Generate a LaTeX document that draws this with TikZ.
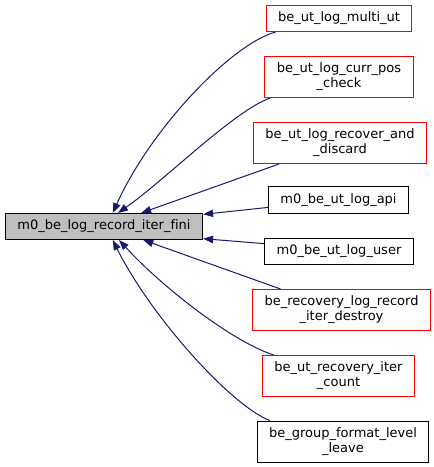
\documentclass[tikz,border=0pt]{standalone}
\usepackage{fontspec}
\setmainfont[Ligatures=NoCommon]{DejaVu Sans}
\usetikzlibrary{arrows.meta}
\definecolor{edgeblue}{HTML}{191970}
\definecolor{mainfill}{HTML}{BFBFBF}
\tikzset{
  fn/.style={draw, align=center, font=\fontsize{9.75}{11.25}\selectfont, inner xsep=9pt, inner ysep=4.9pt, line width=0.75pt},
  callerred/.style={fn, draw=red},
  callerblack/.style={fn, draw=black},
  call/.style={edgeblue, line width=0.75pt, {Triangle[length=7.5pt,width=5.5pt]}-},
}
\begin{document}
\begin{tikzpicture}[x=0.75pt, y=-0.75pt]
\useasboundingbox (0,0) rectangle (433,467);
\node[fn, fill=mainfill] (fini) at (104,226.5) {m0\_be\_log\_record\_iter\_fini};
\node[callerred] (multi) at (339,18.5) {be\_ut\_log\_multi\_ut};
\node[callerred] (currpos) at (339,77) {be\_ut\_log\_curr\_pos\\ \_check};
\node[callerred] (recover) at (340,143) {be\_ut\_log\_recover\_and\\ \_discard};
\node[callerblack] (api) at (338.5,200) {m0\_be\_ut\_log\_api};
\node[callerblack] (user) at (339,251.5) {m0\_be\_ut\_log\_user};
\node[callerred] (destroy) at (341.5,310) {be\_recovery\_log\_record\\ \_iter\_destroy};
\node[callerred] (count) at (338.5,376) {be\_ut\_recovery\_iter\\ \_count};
\node[callerblack] (leave) at (343,441.5) {be\_group\_format\_level\\ \_leave};
% callers point back to fini
\draw[call] (fini.57) .. controls (150,130) and (230,45) .. (multi.192);
\draw[call] (fini.44) .. controls (165,180) and (235,110) .. (currpos.197);
\draw[call] (fini.20) -- (recover.199);
\draw[call] (fini.7) -- (api.186);
\draw[call] (fini.-7) -- (user.174);
\draw[call] (fini.-19) -- (destroy.161);
\draw[call] (fini.-42) .. controls (165,290) and (235,343) .. (count.162);
\draw[call] (fini.-57) .. controls (150,315) and (230,405) .. (leave.164);
\end{tikzpicture}
\end{document}
